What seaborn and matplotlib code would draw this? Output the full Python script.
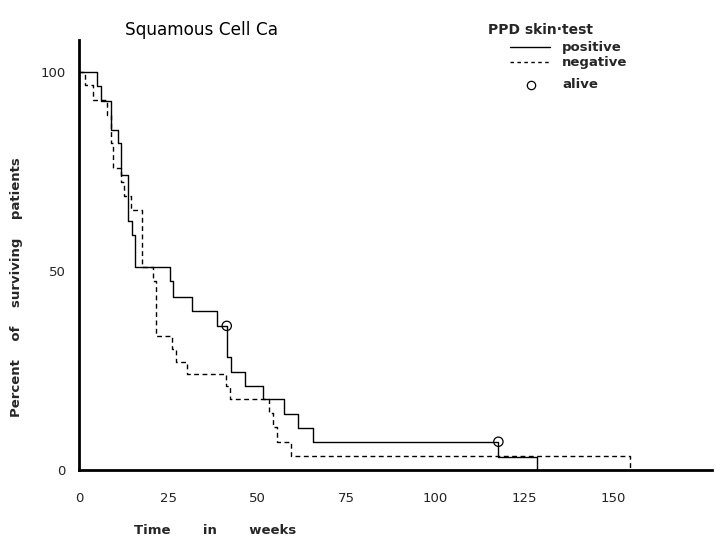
import numpy as np
import pandas as pd
import matplotlib
matplotlib.use("Agg")
import matplotlib.pyplot as plt
from matplotlib.lines import Line2D
import seaborn as sns

sns.set_style("white")
plt.rcParams["font.family"] = ["DejaVu Sans"]

# ---- data (weeks, percent surviving) ----
pos_weeks = [0, 5.0, 6.1, 9.0, 11.0, 11.8, 13.9, 14.8, 15.7, 25.6, 26.5, 31.8,
             38.7, 41.5, 42.6, 46.6, 51.6, 57.7, 61.6, 65.8, 117.8, 128.6]
pos_pct = [100, 96.5, 92.8, 85.4, 82.1, 74.1, 62.6, 59.0, 50.9, 47.5, 43.5, 39.9,
           36.2, 28.3, 24.7, 21.1, 17.8, 14.1, 10.6, 7.1, 3.2, 0]

neg_weeks = [0, 1.7, 4.0, 7.8, 9.0, 9.6, 11.8, 12.6, 14.6, 17.6, 20.7, 21.6,
             26.1, 27.2, 30.4, 41.3, 42.4, 53.5, 54.4, 55.5, 59.6, 154.8]
neg_pct = [100, 96.7, 93.0, 89.2, 82.1, 75.8, 72.4, 68.7, 65.3, 50.9, 47.5, 33.7,
           30.4, 27.2, 24.0, 21.1, 17.8, 14.2, 10.7, 7.0, 3.5, 0]

# patients still alive (censored), positive group
alive_weeks = [41.5, 117.8]
alive_pct = [36.2, 7.1]

x_ticks = [0, 25, 50, 75, 100, 125, 150]
y_ticks = [0, 50, 100]

pos = pd.DataFrame({"weeks": pos_weeks, "pct": pos_pct})
neg = pd.DataFrame({"weeks": neg_weeks, "pct": neg_pct})
alive = pd.DataFrame({"weeks": alive_weeks, "pct": alive_pct})

W, H = 716, 536
fig = plt.figure(figsize=(W / 100, H / 100), dpi=100)
ax = fig.add_axes([79 / W, (H - 470) / H, (712 - 79) / W, (470 - 40) / H])

sns.lineplot(data=pos, x="weeks", y="pct", ax=ax, estimator=None, sort=False,
             drawstyle="steps-post", color="black", linewidth=1.0)
sns.lineplot(data=neg, x="weeks", y="pct", ax=ax, estimator=None, sort=False,
             drawstyle="steps-post", color="black", linewidth=1.0,
             linestyle=(0, (3.5, 2.5)))
sns.scatterplot(data=alive, x="weeks", y="pct", ax=ax, marker="o", s=45,
                facecolor="none", edgecolor="black", linewidth=0.9, zorder=5)

ax.set_xlim(0, 177.8)
ax.set_ylim(0, 108)
ax.set_xticks(x_ticks)
ax.set_yticks(y_ticks)
ax.set_xlabel("")
ax.set_ylabel("")
sns.despine(ax=ax)
for s in ["left", "bottom"]:
    ax.spines[s].set_linewidth(2.0)
    ax.spines[s].set_color("black")
ax.tick_params(axis="x", length=0, pad=16, labelsize=9.5, colors="#222222")
ax.tick_params(axis="y", length=5, direction="inout", width=1, pad=7,
               labelsize=9.5, colors="#222222")

# titles and labels
fig.text(125 / W, 1 - 30 / H, "Squamous Cell Ca", fontsize=12.2,
         va="center", ha="left", color="black")
fig.text(17 / W, 1 - 287 / H, "Percent    of    surviving    patients",
         rotation=90, fontsize=9.5, fontweight="bold", va="center", ha="center")
fig.text(134 / W, 1 - 530 / H, "Time       in       weeks", fontsize=9.5,
         fontweight="bold", va="center", ha="left")

# legend drawn by hand to follow the original layout
fig.text(488 / W, 1 - 30 / H, "PPD skin\u00b7test", fontsize=10,
         fontweight="bold", va="center", ha="left")
fig.add_artist(Line2D([510 / W, 550 / W], [1 - 47 / H, 1 - 47 / H],
                      color="black", lw=1.0, transform=fig.transFigure))
fig.add_artist(Line2D([510 / W, 550 / W], [1 - 62 / H, 1 - 62 / H],
                      color="black", lw=1.0, linestyle=(0, (2.5, 2.5)),
                      transform=fig.transFigure))
fig.add_artist(Line2D([531 / W], [1 - 85 / H], marker="o", markersize=6,
                      markerfacecolor="none", markeredgecolor="black",
                      markeredgewidth=0.9, transform=fig.transFigure))
fig.text(562 / W, 1 - 47 / H, "positive", fontsize=9.5, fontweight="bold",
         va="center", ha="left")
fig.text(562 / W, 1 - 62 / H, "negative", fontsize=9.5, fontweight="bold",
         va="center", ha="left")
fig.text(562 / W, 1 - 84 / H, "alive", fontsize=9.5, fontweight="bold",
         va="center", ha="left")

fig.savefig("out.png", dpi=100)
